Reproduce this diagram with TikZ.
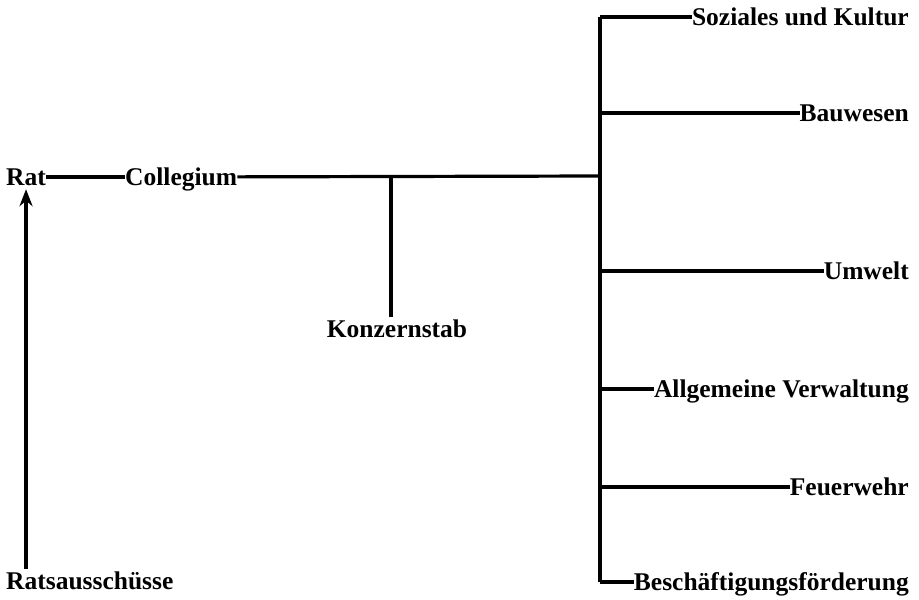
\documentclass[tikz,border=0pt]{standalone}
\usepackage{fontspec}
\setmainfont{Liberation Serif}
\usepackage{tikz}
\usetikzlibrary{arrows.meta,positioning}
\tikzset{
  unitnode/.style={inner sep=0pt, font=\fontsize{25.5}{30}\selectfont\bfseries,
    text height=20pt, text depth=4pt},
  orgedge/.style={draw=black, line width=3.2pt},
  upedge/.style={-{Stealth[length=17pt, width=13pt]}, draw=black, line width=3.4pt},
}
\begin{document}
\begin{tikzpicture}[x=1pt, y=-1pt]
  \useasboundingbox (0,0) rectangle (919,600);
  \node[unitnode, anchor=west] (rat) at (6,177) {Rat};
  \node[unitnode, anchor=west] (coll) at (125,177) {Collegium};
  \node[unitnode] (stab) at (397,329) {Konzernstab};
  \node[unitnode, anchor=west] (aus) at (6,581) {Ratsausschüsse};
  \node[unitnode, anchor=east] (soz) at (909,17) {Soziales und Kultur};
  \node[unitnode, anchor=east] (bau) at (909,113) {Bauwesen};
  \node[unitnode, anchor=east] (umw) at (909,271) {Umwelt};
  \node[unitnode, anchor=east] (verw) at (909,389) {Allgemeine Verwaltung};
  \node[unitnode, anchor=east] (feu) at (909,487) {Feuerwehr};
  \node[unitnode, anchor=east] (bes) at (909,582) {Beschäftigungsförderung};
  \coordinate (bus) at (600,176);
  \coordinate (stabtop) at (391,176);
  \draw[orgedge] (rat) -- (coll);
  \draw[orgedge] (coll) -- (bus);
  \draw[orgedge] (stabtop) -- (stabtop |- stab.north);
  \draw[orgedge] (soz.west -| bus) -- (bes.west -| bus);
  \draw[orgedge] (soz.west -| bus) -- (soz);
  \draw[orgedge] (bau.west -| bus) -- (bau);
  \draw[orgedge] (umw.west -| bus) -- (umw);
  \draw[orgedge] (verw.west -| bus) -- (verw);
  \draw[orgedge] (feu.west -| bus) -- (feu);
  \draw[orgedge] (bes.west -| bus) -- (bes);
  \draw[upedge] (aus.north -| rat.south) -- (rat.south);
\end{tikzpicture}
\end{document}
